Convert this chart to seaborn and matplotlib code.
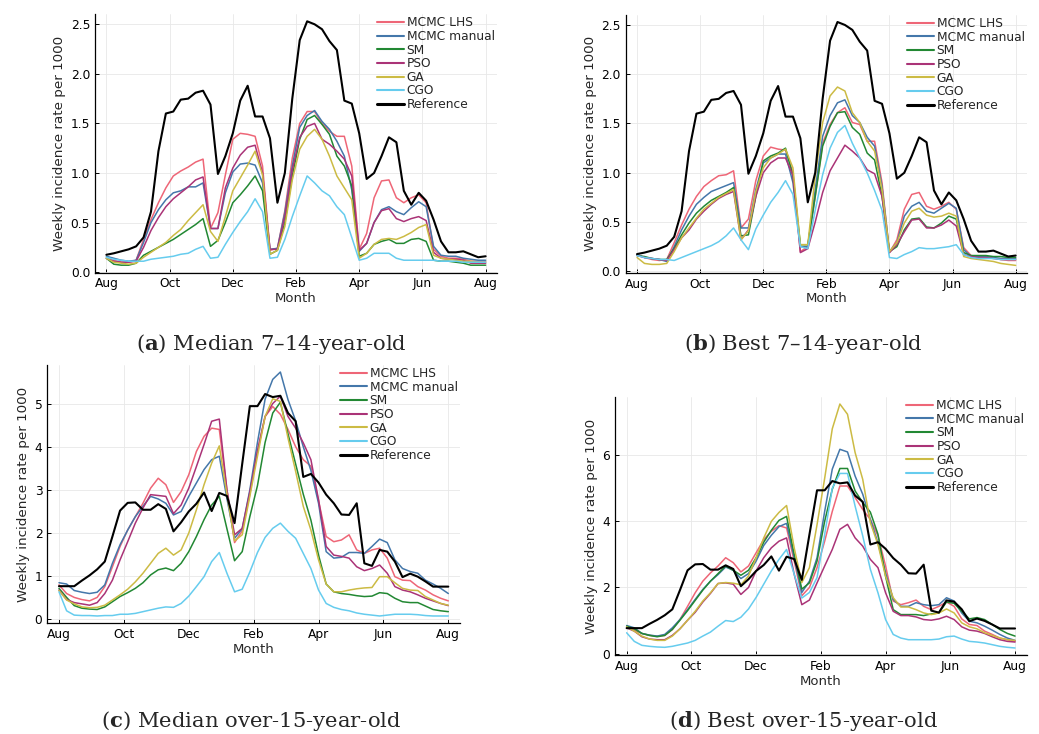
import numpy as np
import pandas as pd
import matplotlib
matplotlib.use("Agg")
import matplotlib.pyplot as plt
from matplotlib.lines import Line2D
import seaborn as sns

sns.set_theme(style="white")
plt.rcParams["font.family"] = ["DejaVu Sans"]
plt.rcParams["mathtext.fontset"] = "dejavuserif"

# ---------------- data ----------------
month_labels = ["Aug", "Oct", "Dec", "Feb", "Apr", "Jun", "Aug"]
methods = ["MCMC LHS", "MCMC manual", "SM", "PSO", "GA", "CGO"]
method_colors = ["#EE6677", "#4477AA", "#228833", "#AA3377", "#CCBB44", "#66CCEE"]
weeks = list(range(52))

# reference, 7-14-year-old
ref_714 = [0.175, 0.19, 0.21, 0.23, 0.26, 0.35, 0.61, 1.22, 1.60, 1.62,
           1.74, 1.75, 1.81, 1.83, 1.69, 0.99, 1.17, 1.40, 1.73, 1.88,
           1.57, 1.57, 1.35, 0.70, 1.00, 1.75, 2.34, 2.53, 2.50, 2.45,
           2.33, 2.24, 1.73, 1.70, 1.40, 0.94, 1.00, 1.17, 1.36, 1.31,
           0.82, 0.68, 0.80, 0.72, 0.53, 0.31, 0.20, 0.20, 0.21, 0.18,
           0.15, 0.16]
# reference, over-15-year-old
ref_15 = [0.77, 0.77, 0.77, 0.90, 1.02, 1.16, 1.34, 1.92, 2.52, 2.70,
          2.71, 2.54, 2.54, 2.67, 2.56, 2.04, 2.25, 2.50, 2.68, 2.94,
          2.51, 2.93, 2.86, 2.23, 3.60, 4.94, 4.94, 5.22, 5.15, 5.18,
          4.78, 4.59, 3.30, 3.37, 3.17, 2.89, 2.69, 2.43, 2.42, 2.69,
          1.30, 1.24, 1.61, 1.57, 1.34, 0.98, 1.06, 0.99, 0.88, 0.76,
          0.76, 0.76]

# (a) median 7-14
a_lhs = [0.14, 0.12, 0.10, 0.10, 0.12, 0.33, 0.53, 0.70, 0.85, 0.97,
         1.02, 1.06, 1.11, 1.14, 0.44, 0.60, 0.98, 1.34, 1.40, 1.39,
         1.37, 1.07, 0.22, 0.24, 0.62, 1.15, 1.50, 1.62, 1.62, 1.50,
         1.42, 1.37, 1.37, 1.07, 0.23, 0.39, 0.75, 0.92, 0.93, 0.75,
         0.70, 0.75, 0.78, 0.70, 0.23, 0.16, 0.14, 0.14, 0.13, 0.11,
         0.11, 0.11]
a_man = [0.16, 0.14, 0.12, 0.11, 0.12, 0.30, 0.50, 0.63, 0.73, 0.80,
         0.82, 0.86, 0.86, 0.90, 0.44, 0.44, 0.80, 1.01, 1.09, 1.10,
         1.08, 0.90, 0.23, 0.24, 0.60, 1.07, 1.46, 1.58, 1.63, 1.52,
         1.44, 1.32, 1.17, 0.83, 0.21, 0.29, 0.50, 0.63, 0.66, 0.61,
         0.58, 0.65, 0.71, 0.66, 0.26, 0.17, 0.16, 0.16, 0.14, 0.13,
         0.12, 0.12]
a_sm = [0.14, 0.08, 0.07, 0.07, 0.09, 0.17, 0.21, 0.25, 0.29, 0.33,
        0.38, 0.43, 0.48, 0.54, 0.26, 0.32, 0.50, 0.70, 0.78, 0.87,
        0.97, 0.82, 0.18, 0.22, 0.50, 0.97, 1.34, 1.54, 1.58, 1.49,
        1.39, 1.17, 1.07, 0.87, 0.16, 0.19, 0.28, 0.31, 0.33, 0.29,
        0.29, 0.33, 0.34, 0.31, 0.12, 0.11, 0.11, 0.10, 0.09, 0.07,
        0.07, 0.07]
a_pso = [0.14, 0.11, 0.10, 0.10, 0.11, 0.25, 0.42, 0.55, 0.66, 0.74,
         0.80, 0.86, 0.93, 0.96, 0.44, 0.44, 0.85, 1.05, 1.18, 1.26,
         1.28, 1.00, 0.23, 0.23, 0.56, 1.03, 1.36, 1.47, 1.50, 1.34,
         1.29, 1.22, 1.14, 0.97, 0.22, 0.29, 0.50, 0.62, 0.64, 0.54,
         0.51, 0.54, 0.56, 0.52, 0.20, 0.14, 0.13, 0.13, 0.12, 0.09,
         0.09, 0.09]
a_ga = [0.14, 0.10, 0.09, 0.08, 0.09, 0.15, 0.20, 0.25, 0.30, 0.37,
        0.43, 0.52, 0.60, 0.68, 0.41, 0.31, 0.56, 0.82, 0.95, 1.08,
        1.22, 0.98, 0.18, 0.22, 0.46, 0.93, 1.24, 1.37, 1.44, 1.34,
        1.17, 0.97, 0.85, 0.73, 0.14, 0.19, 0.28, 0.33, 0.34, 0.33,
        0.36, 0.40, 0.45, 0.48, 0.17, 0.14, 0.13, 0.12, 0.11, 0.11,
        0.10, 0.10]
a_cgo = [0.15, 0.13, 0.12, 0.11, 0.11, 0.11, 0.13, 0.14, 0.15, 0.16,
         0.18, 0.19, 0.23, 0.26, 0.14, 0.15, 0.28, 0.40, 0.51, 0.61,
         0.74, 0.61, 0.14, 0.15, 0.33, 0.56, 0.77, 0.97, 0.90, 0.82,
         0.77, 0.66, 0.58, 0.35, 0.12, 0.14, 0.19, 0.19, 0.19, 0.14,
         0.12, 0.12, 0.12, 0.12, 0.12, 0.11, 0.11, 0.11, 0.10, 0.10,
         0.10, 0.10]

# (b) best 7-14
b_lhs = [0.17, 0.14, 0.12, 0.11, 0.12, 0.29, 0.47, 0.63, 0.76, 0.86,
         0.92, 0.97, 0.98, 1.02, 0.44, 0.53, 0.92, 1.17, 1.26, 1.24,
         1.23, 1.00, 0.20, 0.25, 0.76, 1.30, 1.49, 1.61, 1.66, 1.51,
         1.49, 1.32, 1.32, 0.90, 0.19, 0.32, 0.63, 0.78, 0.80, 0.66,
         0.63, 0.66, 0.70, 0.63, 0.24, 0.16, 0.15, 0.15, 0.14, 0.12,
         0.11, 0.11]
b_man = [0.17, 0.14, 0.13, 0.12, 0.10, 0.25, 0.42, 0.56, 0.68, 0.75,
         0.81, 0.84, 0.87, 0.90, 0.44, 0.44, 0.83, 1.10, 1.15, 1.19,
         1.19, 0.90, 0.25, 0.25, 0.83, 1.37, 1.58, 1.71, 1.74, 1.58,
         1.51, 1.36, 1.27, 0.86, 0.20, 0.29, 0.56, 0.66, 0.70, 0.61,
         0.59, 0.64, 0.69, 0.64, 0.22, 0.15, 0.15, 0.15, 0.14, 0.13,
         0.13, 0.13]
b_sm = [0.16, 0.15, 0.13, 0.12, 0.12, 0.23, 0.37, 0.49, 0.59, 0.66,
        0.72, 0.76, 0.80, 0.85, 0.36, 0.37, 0.76, 1.12, 1.17, 1.20,
        1.25, 0.97, 0.27, 0.27, 0.76, 1.27, 1.47, 1.61, 1.62, 1.46,
        1.39, 1.20, 1.13, 0.76, 0.20, 0.25, 0.42, 0.53, 0.54, 0.45,
        0.44, 0.49, 0.56, 0.53, 0.19, 0.16, 0.16, 0.16, 0.15, 0.15,
        0.14, 0.14]
b_pso = [0.16, 0.14, 0.13, 0.12, 0.11, 0.22, 0.34, 0.42, 0.53, 0.61,
         0.68, 0.74, 0.78, 0.81, 0.32, 0.42, 0.76, 1.00, 1.10, 1.15,
         1.15, 0.97, 0.19, 0.23, 0.50, 0.80, 1.02, 1.15, 1.28, 1.22,
         1.15, 1.03, 0.99, 0.76, 0.19, 0.27, 0.40, 0.52, 0.53, 0.44,
         0.44, 0.47, 0.52, 0.46, 0.17, 0.15, 0.14, 0.14, 0.13, 0.12,
         0.12, 0.12]
b_ga = [0.14, 0.08, 0.07, 0.07, 0.08, 0.20, 0.34, 0.44, 0.54, 0.63,
        0.69, 0.75, 0.79, 0.83, 0.32, 0.41, 0.81, 1.05, 1.15, 1.19,
        1.24, 1.05, 0.27, 0.27, 0.97, 1.51, 1.78, 1.87, 1.83, 1.61,
        1.51, 1.32, 1.22, 0.83, 0.20, 0.29, 0.49, 0.61, 0.64, 0.57,
        0.55, 0.56, 0.59, 0.56, 0.15, 0.13, 0.12, 0.11, 0.10, 0.08,
        0.07, 0.06]
b_cgo = [0.16, 0.14, 0.13, 0.12, 0.12, 0.11, 0.14, 0.17, 0.20, 0.23,
         0.26, 0.30, 0.36, 0.44, 0.32, 0.22, 0.43, 0.57, 0.70, 0.80,
         0.92, 0.78, 0.25, 0.23, 0.62, 0.98, 1.25, 1.41, 1.48, 1.30,
         1.15, 1.00, 0.82, 0.62, 0.14, 0.13, 0.17, 0.20, 0.24, 0.23,
         0.23, 0.24, 0.25, 0.27, 0.17, 0.14, 0.13, 0.13, 0.13, 0.12,
         0.12, 0.12]

# (c) median over-15
c_lhs = [0.80, 0.60, 0.51, 0.46, 0.43, 0.51, 0.76, 1.22, 1.69, 2.07,
         2.38, 2.69, 3.04, 3.27, 3.12, 2.71, 2.96, 3.35, 3.89, 4.24,
         4.43, 4.40, 3.00, 1.78, 2.05, 2.90, 3.90, 4.70, 4.93, 4.75,
         4.40, 4.00, 3.70, 3.55, 2.75, 1.92, 1.80, 1.84, 1.96, 1.61,
         1.53, 1.61, 1.65, 1.42, 0.99, 0.91, 0.90, 0.76, 0.68, 0.57,
         0.49, 0.43]
c_man = [0.85, 0.82, 0.67, 0.63, 0.60, 0.63, 0.80, 1.30, 1.73, 2.07,
         2.38, 2.62, 2.85, 2.79, 2.69, 2.42, 2.50, 2.85, 3.16, 3.47,
         3.70, 3.78, 2.80, 1.88, 2.10, 3.00, 4.10, 5.10, 5.56, 5.73,
         5.09, 4.60, 4.00, 3.45, 2.69, 1.57, 1.42, 1.44, 1.55, 1.55,
         1.53, 1.69, 1.86, 1.78, 1.38, 1.18, 1.11, 1.07, 0.91, 0.82,
         0.72, 0.60]
c_sm = [0.72, 0.51, 0.32, 0.26, 0.24, 0.23, 0.29, 0.41, 0.53, 0.62,
        0.72, 0.85, 1.03, 1.15, 1.19, 1.13, 1.30, 1.57, 1.92, 2.31,
        2.65, 2.85, 2.10, 1.36, 1.57, 2.38, 3.10, 4.10, 4.78, 5.03,
        4.30, 3.60, 2.90, 2.30, 1.49, 0.82, 0.64, 0.60, 0.58, 0.55,
        0.53, 0.54, 0.62, 0.60, 0.49, 0.41, 0.39, 0.39, 0.31, 0.23,
        0.20, 0.18]
c_pso = [0.68, 0.46, 0.39, 0.36, 0.33, 0.39, 0.60, 0.91, 1.38, 1.80,
         2.23, 2.58, 2.89, 2.87, 2.85, 2.45, 2.65, 3.04, 3.54, 4.05,
         4.59, 4.64, 3.00, 1.96, 2.11, 2.95, 3.90, 4.70, 5.00, 5.17,
         4.70, 4.43, 4.09, 3.70, 2.77, 1.69, 1.49, 1.46, 1.42, 1.22,
         1.13, 1.18, 1.26, 1.07, 0.76, 0.68, 0.64, 0.57, 0.49, 0.43,
         0.37, 0.32]
c_ga = [0.67, 0.45, 0.36, 0.29, 0.27, 0.28, 0.33, 0.45, 0.57, 0.70,
        0.87, 1.07, 1.30, 1.53, 1.65, 1.49, 1.61, 2.00, 2.54, 3.12,
        3.62, 4.02, 2.90, 1.82, 1.96, 2.85, 3.78, 4.70, 5.11, 5.05,
        4.20, 3.43, 2.62, 2.07, 1.38, 0.82, 0.64, 0.64, 0.68, 0.71,
        0.73, 0.74, 0.99, 0.99, 0.85, 0.72, 0.68, 0.67, 0.53, 0.45,
        0.37, 0.33]
c_cgo = [0.64, 0.20, 0.10, 0.09, 0.09, 0.08, 0.09, 0.09, 0.12, 0.12,
         0.14, 0.18, 0.22, 0.26, 0.29, 0.28, 0.37, 0.54, 0.76, 0.99,
         1.34, 1.55, 1.07, 0.64, 0.70, 1.10, 1.55, 1.90, 2.11, 2.23,
         2.04, 1.88, 1.53, 1.18, 0.68, 0.37, 0.28, 0.23, 0.20, 0.15,
         0.12, 0.10, 0.08, 0.10, 0.12, 0.12, 0.12, 0.11, 0.09, 0.08,
         0.08, 0.08]

# (d) best over-15
d_lhs = [0.81, 0.71, 0.61, 0.55, 0.53, 0.55, 0.73, 1.03, 1.43, 1.84,
         2.19, 2.44, 2.65, 2.90, 2.75, 2.47, 2.65, 3.05, 3.45, 3.70,
         3.87, 3.80, 2.80, 1.75, 2.00, 2.60, 3.40, 4.30, 5.07, 5.07,
         4.72, 4.36, 4.06, 3.56, 2.65, 1.59, 1.48, 1.54, 1.62, 1.43,
         1.33, 1.43, 1.56, 1.43, 1.05, 0.88, 0.85, 0.68, 0.58, 0.47,
         0.42, 0.37]
d_man = [0.85, 0.78, 0.61, 0.56, 0.53, 0.58, 0.78, 1.03, 1.33, 1.64,
         1.94, 2.19, 2.39, 2.62, 2.52, 2.27, 2.42, 2.80, 3.27, 3.58,
         3.84, 3.94, 2.90, 1.85, 2.19, 2.90, 4.30, 5.58, 6.18, 6.10,
         5.37, 4.82, 4.06, 3.35, 2.44, 1.64, 1.43, 1.43, 1.54, 1.48,
         1.45, 1.48, 1.69, 1.59, 1.23, 0.98, 0.93, 0.83, 0.71, 0.58,
         0.47, 0.40]
d_sm = [0.83, 0.75, 0.61, 0.55, 0.51, 0.55, 0.73, 1.01, 1.30, 1.61,
        1.92, 2.19, 2.42, 2.65, 2.52, 2.37, 2.52, 2.90, 3.37, 3.73,
        4.03, 4.15, 3.00, 1.95, 2.14, 2.80, 4.00, 4.97, 5.60, 5.60,
        4.92, 4.57, 4.28, 3.61, 2.34, 1.33, 1.18, 1.18, 1.18, 1.15,
        1.20, 1.23, 1.56, 1.52, 1.28, 1.05, 1.09, 1.03, 0.88, 0.73,
        0.61, 0.53]
d_pso = [0.78, 0.68, 0.51, 0.44, 0.42, 0.42, 0.55, 0.75, 1.01, 1.25,
         1.56, 1.82, 2.12, 2.14, 2.10, 1.79, 2.00, 2.50, 2.90, 3.20,
         3.40, 3.50, 2.40, 1.48, 1.62, 2.14, 2.65, 3.15, 3.76, 3.91,
         3.50, 3.25, 2.85, 2.60, 1.84, 1.28, 1.15, 1.15, 1.11, 1.03,
         1.01, 1.05, 1.13, 1.03, 0.81, 0.71, 0.68, 0.61, 0.51, 0.42,
         0.37, 0.35]
d_ga = [0.81, 0.68, 0.53, 0.44, 0.40, 0.40, 0.53, 0.75, 1.01, 1.28,
        1.59, 1.84, 2.12, 2.15, 2.13, 2.08, 2.35, 2.90, 3.50, 4.00,
        4.27, 4.48, 3.20, 2.15, 2.60, 3.90, 5.30, 6.80, 7.55, 7.24,
        6.08, 5.27, 3.96, 3.30, 2.34, 1.69, 1.41, 1.41, 1.33, 1.23,
        1.18, 1.23, 1.35, 1.23, 0.93, 0.81, 0.75, 0.63, 0.55, 0.47,
        0.42, 0.40]
d_cgo = [0.63, 0.37, 0.25, 0.22, 0.20, 0.19, 0.22, 0.27, 0.32, 0.40,
         0.53, 0.65, 0.83, 1.00, 0.97, 1.10, 1.35, 1.70, 2.10, 2.50,
         2.85, 3.15, 2.40, 1.68, 1.85, 2.30, 3.60, 5.00, 5.45, 5.45,
         4.46, 3.56, 2.55, 1.84, 1.03, 0.58, 0.47, 0.42, 0.42, 0.42,
         0.42, 0.44, 0.51, 0.53, 0.44, 0.37, 0.35, 0.32, 0.27, 0.22,
         0.19, 0.17]

panels = [
    dict(series=[a_lhs, a_man, a_sm, a_pso, a_ga, a_cgo], ref=ref_714,
         yticks=[0, 0.5, 1.0, 1.5, 2.0, 2.5], fmt="{:.1f}",
         rect=[95, 14, 497, 272.5], caption=("a", "Median 7\u201314-year-old"),
         cap_xy=(271, 350)),
    dict(series=[b_lhs, b_man, b_sm, b_pso, b_ga, b_cgo], ref=ref_714,
         yticks=[0, 0.5, 1.0, 1.5, 2.0, 2.5], fmt="{:.1f}",
         rect=[625.7, 14.7, 1027, 272.7], caption=("b", "Best 7\u201314-year-old"),
         cap_xy=(803, 350)),
    dict(series=[c_lhs, c_man, c_sm, c_pso, c_ga, c_cgo], ref=ref_15,
         yticks=[0, 1, 2, 3, 4, 5], fmt="{:.0f}",
         rect=[47.3, 364.7, 460, 623.3], caption=("c", "Median over-15-year-old"),
         cap_xy=(251, 727)),
    dict(series=[d_lhs, d_man, d_sm, d_pso, d_ga, d_cgo], ref=ref_15,
         yticks=[0, 2, 4, 6], fmt="{:.0f}",
         rect=[615, 396.7, 1026.7, 655.3], caption=("d", "Best over-15-year-old"),
         cap_xy=(804, 727)),
]

W, H = 1039, 734
fig = plt.figure(figsize=(W / 100, H / 100), dpi=100)

for p in panels:
    x0, y0, x1, y1 = p["rect"]
    ax = fig.add_axes([x0 / W, 1 - y1 / H, (x1 - x0) / W, (y1 - y0) / H])
    df = pd.DataFrame({
        "week": np.tile(weeks, len(methods)),
        "value": np.concatenate([np.asarray(s, float) for s in p["series"]]),
        "method": np.repeat(methods, len(weeks)),
    })
    sns.lineplot(data=df, x="week", y="value", hue="method", hue_order=methods,
                 palette=method_colors, linewidth=1.1, estimator=None,
                 legend=False, ax=ax)
    sns.lineplot(x=weeks, y=p["ref"], color="black", linewidth=1.5,
                 estimator=None, ax=ax)
    allv = np.concatenate([df["value"].values, np.asarray(p["ref"], float)])
    lo, hi = allv.min(), allv.max()
    rng = hi - lo
    ax.set_ylim(lo - 0.03 * rng, hi + 0.03 * rng)
    ax.set_xlim(-0.03 * 51, 51 * 1.03)
    ax.set_xticks(np.linspace(0, 51, 7))
    ax.set_xticklabels(month_labels)
    ax.set_yticks(p["yticks"])
    ax.set_yticklabels([p["fmt"].format(v) for v in p["yticks"]])
    ax.grid(True, color="#e8e8e8", linewidth=0.6)
    ax.set_axisbelow(True)
    for side in ["top", "right"]:
        ax.spines[side].set_visible(False)
    for side in ["left", "bottom"]:
        ax.spines[side].set_color("black")
        ax.spines[side].set_linewidth(0.9)
    ax.tick_params(axis="both", labelsize=8.8, direction="in", length=3,
                   width=0.7, colors="black", pad=3.5, left=True, bottom=True)
    ax.set_xlabel("Month", fontsize=9.5, labelpad=1)
    ax.set_ylabel("Weekly incidence rate per 1000", fontsize=9.7, labelpad=3)

    handles = [Line2D([0], [0], color=c, lw=1.5) for c in method_colors]
    handles.append(Line2D([0], [0], color="black", lw=2.2))
    ax.legend(handles, methods + ["Reference"], loc="upper right", frameon=False,
              fontsize=8.8, handlelength=2.2, handletextpad=0.25,
              labelspacing=0.05, borderaxespad=0.0, borderpad=0.2)

    letter, rest = p["caption"]
    cx, cy = p["cap_xy"]
    fig.text(cx / W, 1 - cy / H, r"($\mathbf{" + letter + r"}$) " + rest,
             family="DejaVu Serif", fontsize=15.2, ha="center", va="baseline")

fig.savefig("out.png", dpi=100)
